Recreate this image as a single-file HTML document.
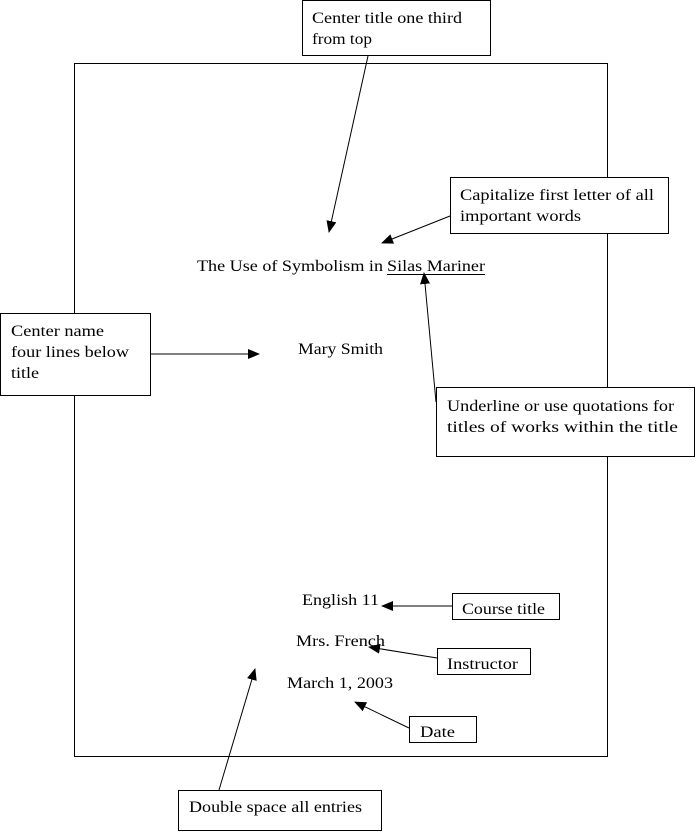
<!DOCTYPE html>
<html><head><meta charset="utf-8"><style>
html,body{margin:0;padding:0;background:#fff;}
svg{display:block;}
text{font-family:"Liberation Serif",serif;font-size:16px;fill:#000;}
</style></head><body>
<svg width="696" height="832" viewBox="0 0 696 832" xmlns="http://www.w3.org/2000/svg">
<defs><marker id="a" markerWidth="12" markerHeight="10" refX="11" refY="5" orient="auto" markerUnits="userSpaceOnUse"><path d="M0,0 L12,5 L0,10 z" fill="#000"/></marker></defs>
<rect x="74.5" y="63.5" width="533" height="693" fill="none" stroke="#000"/>
<g fill="#fff" stroke="#000">
<rect x="302.5" y="0.5" width="188" height="55"/>
<rect x="450.5" y="177.5" width="218" height="56"/>
<rect x="0.5" y="313.5" width="150" height="82"/>
<rect x="436.5" y="387.5" width="258" height="69"/>
<rect x="452.5" y="593.5" width="107" height="26"/>
<rect x="437.5" y="648.5" width="93" height="26"/>
<rect x="409.5" y="716.5" width="67" height="26"/>
<rect x="178.5" y="790.5" width="203" height="40"/>
</g>
<g stroke="#000" stroke-width="1" marker-end="url(#a)">
<line x1="368" y1="56" x2="329" y2="232"/>
<line x1="450" y1="216" x2="382" y2="243"/>
<line x1="436" y1="402" x2="424" y2="273"/>
<line x1="150" y1="354" x2="259" y2="354"/>
<line x1="452" y1="606" x2="382" y2="606"/>
<line x1="437" y1="658" x2="369" y2="647"/>
<line x1="409" y1="728" x2="355" y2="702"/>
<line x1="219" y1="790" x2="255" y2="669"/>
</g>
<g>
<text x="312" y="23" textLength="150" lengthAdjust="spacingAndGlyphs">Center title one third</text>
<text x="312" y="44" textLength="60" lengthAdjust="spacingAndGlyphs">from top</text>
<text x="460" y="200" textLength="194" lengthAdjust="spacingAndGlyphs">Capitalize first letter of all</text>
<text x="460" y="221" textLength="121" lengthAdjust="spacingAndGlyphs">important words</text>
<text x="197" y="271" textLength="186" lengthAdjust="spacingAndGlyphs">The Use of Symbolism in</text>
<text x="387" y="271" textLength="98" lengthAdjust="spacingAndGlyphs">Silas Mariner</text>
<text x="11" y="336" textLength="93" lengthAdjust="spacingAndGlyphs">Center name</text>
<text x="11" y="357" textLength="118" lengthAdjust="spacingAndGlyphs">four lines below</text>
<text x="11" y="378" textLength="28" lengthAdjust="spacingAndGlyphs">title</text>
<text x="298" y="354" textLength="85" lengthAdjust="spacingAndGlyphs">Mary Smith</text>
<text x="447" y="411" textLength="227" lengthAdjust="spacingAndGlyphs">Underline or use quotations for</text>
<text x="447" y="432" textLength="231" lengthAdjust="spacingAndGlyphs">titles of works within the title</text>
<text x="302" y="605" textLength="77" lengthAdjust="spacingAndGlyphs">English 11</text>
<text x="462" y="614" textLength="83" lengthAdjust="spacingAndGlyphs">Course title</text>
<text x="296" y="646" textLength="89" lengthAdjust="spacingAndGlyphs">Mrs. French</text>
<text x="447" y="669" textLength="71" lengthAdjust="spacingAndGlyphs">Instructor</text>
<text x="287" y="688" textLength="106" lengthAdjust="spacingAndGlyphs">March 1, 2003</text>
<text x="420" y="737" textLength="35" lengthAdjust="spacingAndGlyphs">Date</text>
<text x="189" y="812" textLength="173" lengthAdjust="spacingAndGlyphs">Double space all entries</text>
</g>
<line x1="387" y1="274.5" x2="485" y2="274.5" stroke="#000"/>
</svg>
</body></html>
